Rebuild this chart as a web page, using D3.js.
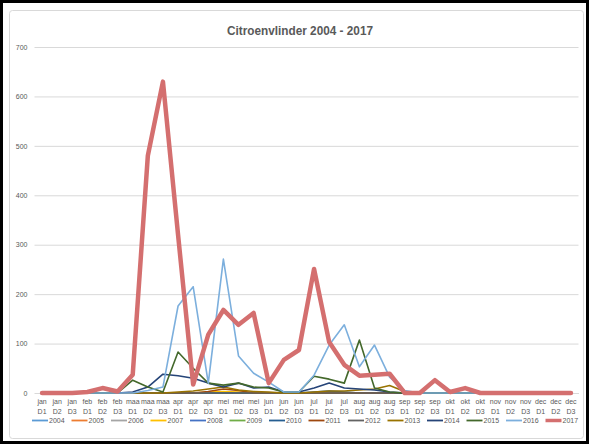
<!DOCTYPE html>
<html><head><meta charset="utf-8">
<script src="https://cdn.jsdelivr.net/npm/d3@7"></script>
<style>body{margin:0;background:#fff}svg{display:block}</style>
</head><body><div id="chart"></div>
<script>
const title = "Citroenvlinder 2004 - 2017";
const months = ["jan","jan","jan","feb","feb","feb","maa","maa","maa","apr","apr","apr","mei","mei","mei","jun","jun","jun","jul","jul","jul","aug","aug","aug","sep","sep","sep","okt","okt","okt","nov","nov","nov","dec","dec","dec"];
const decades = ["D1","D2","D3"];
const categories = months.map((m,i)=>m+" "+decades[i%3]);
const yTicks = [0,100,200,300,400,500,600,700];
const years = ["2004","2005","2006","2007","2008","2009","2010","2011","2012","2013","2014","2015","2016","2017"];
const colors = ["#5B9BD5","#ED7D31","#A5A5A5","#FFC000","#4472C4","#70AD47","#255E91","#9E480E","#636363","#997300","#264478","#43682B","#7CAFDD","#D46F6F"];

const s2004 = [0,0,0,0,0,0,0,0,0,0,0,0,0,0,0,0,0,0,0,0,0,0,0,0,0,0,0,0,0,0,0,0,0,0,0,0];
const s2005 = [0,0,0,0,0,0,0,0,0,0,0,0,0,0,0,0,0,0,0,0,0,0,0,0,0,0,0,0,0,0,0,0,0,0,0,0];
const s2006 = [0,0,0,0,0,0,0,0,0,0,0,0,0,0,0,0,0,0,0,0,0,0,0,0,0,0,0,0,0,0,0,0,0,0,0,0];
const s2007 = [0,0,0,0,0,0,0,0,0,0,0,2,3,2,0,0,0,0,0,0,0,0,0,0,0,0,0,0,0,0,0,0,0,0,0,0];
const s2008 = [0,0,0,0,0,0,0,0,0,0,0,0,0,0,0,0,0,0,0,0,0,0,0,0,0,0,0,0,0,0,0,0,0,0,0,0];
const s2009 = [0,0,0,0,0,0,0,0,0,0,0,0,0,0,0,0,0,0,0,0,0,0,0,0,0,0,0,0,0,0,0,0,0,0,0,0];
const s2010 = [0,0,0,0,0,0,0,0,0,0,0,0,0,0,0,0,0,0,2,4,2,0,0,0,0,0,0,0,0,0,0,0,0,0,0,0];
const s2011 = [0,0,0,0,0,0,0,0,0,0,0,3,8,5,0,0,0,0,0,0,0,0,0,0,0,0,0,0,0,0,0,0,0,0,0,0];
const s2012 = [0,0,0,0,0,0,0,0,0,0,0,0,0,0,0,0,0,0,0,0,0,0,0,0,0,0,0,0,0,0,0,0,0,0,0,0];
const s2013 = [0,0,0,0,0,0,0,0,0,2,4,8,12,6,3,2,0,0,2,4,4,6,8,15,3,0,0,0,0,0,0,0,0,0,0,0];
const s2014 = [0,0,0,0,0,0,2,12,38,35,30,20,12,20,10,12,2,2,10,20,10,8,6,2,0,0,0,0,0,0,0,0,0,0,0,0];
const s2015 = [0,0,0,0,0,0,26,12,2,83,50,20,16,20,12,10,2,2,34,28,20,107,10,2,0,0,0,0,0,0,0,0,0,0,0,0];
const s2016 = [0,0,0,0,0,0,0,5,12,176,215,20,271,75,40,22,2,2,36,97,138,53,97,32,5,0,0,0,0,0,0,0,0,0,0,0];
const s2017 = [0,0,0,2,10,3,37,480,630,320,17,118,168,138,162,20,67,87,251,103,57,35,37,39,0,0,26,2,10,0,0,0,0,0,0,0];
const seriesValues = [s2004,s2005,s2006,s2007,s2008,s2009,s2010,s2011,s2012,s2013,s2014,s2015,s2016,s2017];

const W = 590, H = 445;
const svg = d3.select("#chart").append("svg").attr("width",W).attr("height",H);
svg.append("rect").attr("x",0).attr("y",0).attr("width",W).attr("height",H).attr("fill","#fff");
svg.append("rect").attr("x",1.5).attr("y",1.5).attr("width",W-4).attr("height",H-4)
  .attr("fill","none").attr("stroke","#000").attr("stroke-width",3);
svg.append("rect").attr("x",9.5).attr("y",10.5).attr("width",574).attr("height",428).attr("rx",3)
  .attr("fill","#fff").attr("stroke","#d9d9d9").attr("stroke-width",1);

const m = {left:34.5, right:578.5, top:47, bottom:393};
const x = d3.scaleBand().domain(categories).range([m.left,m.right]);
const y = d3.scaleLinear().domain([0,700]).range([m.bottom,m.top]);

svg.append("text").attr("x",300).attr("y",35).attr("text-anchor","middle")
  .attr("font-family","Liberation Sans, Arial, sans-serif").attr("font-weight","bold")
  .attr("font-size",13.5).attr("fill","#595959").attr("textLength",146).attr("lengthAdjust","spacingAndGlyphs").text(title);

// gridlines
const yAxis = d3.axisLeft(y).tickValues(yTicks).tickSize(-(m.right-m.left)).tickPadding(7);
const ga = svg.append("g").attr("transform",`translate(${m.left},0)`).call(yAxis);
ga.select(".domain").remove();
ga.selectAll(".tick line").attr("stroke","#d9d9d9").attr("stroke-width",1);
ga.selectAll(".tick text").attr("font-family","Liberation Sans, Arial, sans-serif").attr("font-size",7).attr("fill","#595959");

// x axis
const xa = svg.append("g").attr("transform",`translate(0,${m.bottom})`).call(d3.axisBottom(x).tickSize(0).tickFormat(""));
xa.select(".domain").attr("stroke","#d9d9d9");
const lab = svg.append("g");
categories.forEach((c,i)=>{
  const cx = x(c)+x.bandwidth()/2;
  const t = lab.append("text").attr("x",cx).attr("y",404).attr("text-anchor","middle")
    .attr("font-family","Liberation Sans, Arial, sans-serif").attr("font-size",7).attr("fill","#595959");
  t.append("tspan").attr("x",cx).attr("dy",0).text(months[i]);
  t.append("tspan").attr("x",cx).attr("dy",9.5).text(decades[i%3]);
});

// lines
const line = d3.line().x((d,i)=>x(categories[i])+x.bandwidth()/2).y(d=>y(d));
seriesValues.forEach((vals,k)=>{
  svg.append("path").datum(vals).attr("d",line).attr("fill","none")
    .attr("stroke",colors[k]).attr("stroke-width",k===13?4.5:1.6)
    .attr("stroke-linejoin","round").attr("stroke-linecap","round");
});

// legend
const lg = svg.append("g");
years.forEach((yr,k)=>{
  const lx = 32 + k*39.5;
  lg.append("line").attr("x1",lx).attr("x2",lx+16).attr("y1",420.5).attr("y2",420.5)
    .attr("stroke",colors[k]).attr("stroke-width",k===13?3.5:1.8);
  lg.append("text").attr("x",lx+17).attr("y",423).attr("font-family","Liberation Sans, Arial, sans-serif")
    .attr("font-size",7).attr("fill","#595959").text(yr);
});
</script></body></html>
